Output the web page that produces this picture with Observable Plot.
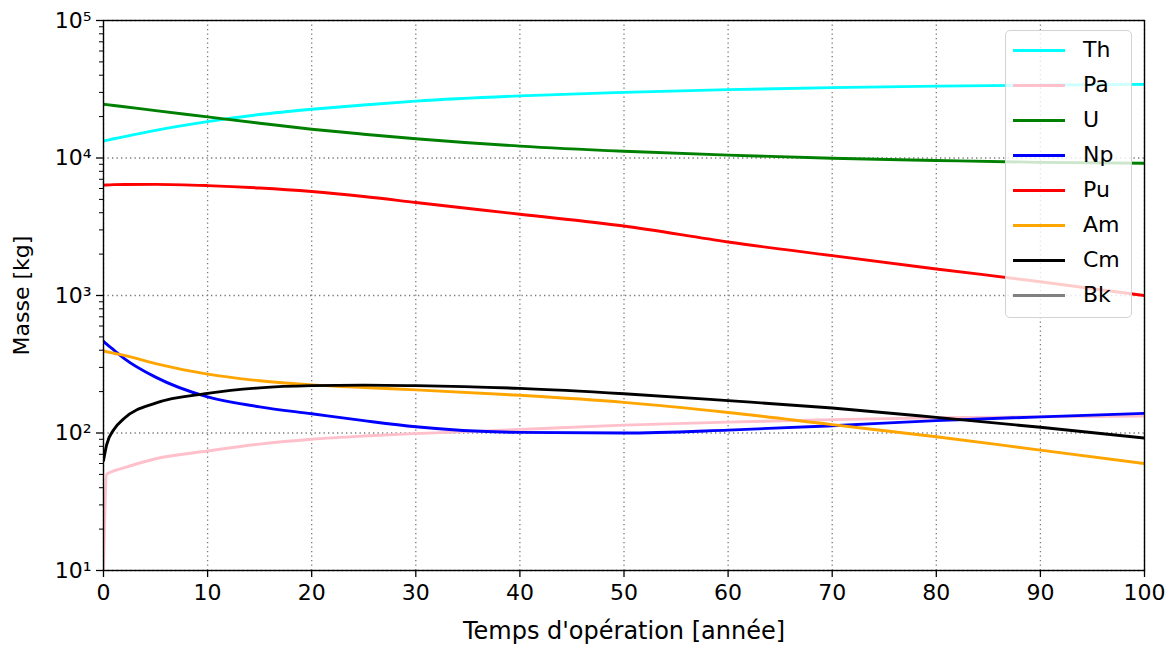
<!DOCTYPE html>
<html><head><meta charset="utf-8">
<script src="https://cdn.jsdelivr.net/npm/d3@7"></script>
<script src="https://cdn.jsdelivr.net/npm/@observablehq/plot@0.6"></script>
<style>
body{margin:0;background:#fff;font-family:"DejaVu Sans",sans-serif;}
#wrap{position:relative;width:1173px;height:646px;overflow:hidden;}
#legend{position:absolute;left:1005px;top:30px;width:127px;height:288px;box-sizing:border-box;border:1.5px solid #d3d3d3;border-radius:5px;background:rgba(255,255,255,0.8);}
.item{position:absolute;left:0;width:120px;height:35px;}
.item .sw{position:absolute;left:7px;top:16px;width:52px;height:3px;}
.item span{position:absolute;left:77px;top:3px;font-size:22px;line-height:27px;color:#000;}
</style></head><body><div id="wrap"><div id="legend"></div></div>
<script>
// time [années]
const time = [0, 0.3, 1, 2, 5, 10, 15, 20, 25, 30, 40, 50, 60, 70, 80, 90, 100];
// masses [kg]
const Th = [13300, 13450, 13800, 14300, 15900, 18400, 20700, 22600, 24300, 25900, 28300, 30000, 31400, 32500, 33300, 33900, 34300];
const Pa = [10, 50, 53, 56, 65, 74, 83, 90, 95, 99, 106, 114, 120, 125, 129, 131, 133];
const U  = [24600, 24450, 24100, 23600, 22100, 19900, 17900, 16200, 14900, 13800, 12200, 11200, 10500, 9950, 9600, 9300, 9150];
const Np = [465, 443, 401, 348, 255, 183, 155, 138, 123, 111, 101, 100, 105, 113, 123, 131, 139];
const Pu = [6350, 6370, 6400, 6420, 6430, 6300, 6050, 5700, 5250, 4750, 3900, 3200, 2450, 1950, 1560, 1260, 1000];
const Am = [395, 390, 380, 367, 320, 268, 240, 224, 214, 206, 188, 167, 141, 115, 94, 75, 60];
const Cm = [63, 82, 106, 128, 165, 194, 213, 221, 223, 221, 211, 193, 172, 152, 130, 110, 92];
const Bk = [];

const elements = ["Th", "Pa", "U", "Np", "Pu", "Am", "Cm", "Bk"];
const colors = ["#00ffff", "#ffc0cb", "#008000", "#0000ff", "#ff0000", "#ffa500", "#000000", "#808080"];
const xTicks = [0, 10, 20, 30, 40, 50, 60, 70, 80, 90, 100];
const yMajor = [10, 100, 1000, 10000, 100000];
const yMinor = [20, 30, 40, 50, 60, 70, 80, 90, 200, 300, 400, 500, 600, 700, 800, 900,
  2000, 3000, 4000, 5000, 6000, 7000, 8000, 9000, 20000, 30000, 40000, 50000, 60000, 70000, 80000, 90000];

const series = {Th, Pa, U, Np, Pu, Am, Cm, Bk};
const data = elements.flatMap(el => series[el].map((v, i) => ({el, t: time[i], v})));

const sup = "⁰¹²³⁴⁵⁶⁷⁸⁹";
const fmt = d => "10" + String(Math.round(Math.log10(d))).split("").map(c => sup[+c]).join("");

const grid = {stroke: "#777", strokeOpacity: 1, strokeWidth: 1.3, strokeDasharray: "1.3,3.2"};

const chart = Plot.plot({
  width: 1173, height: 646,
  marginLeft: 103, marginRight: 29, marginTop: 20, marginBottom: 76,
  x: {domain: [0, 100]},
  y: {type: "log", domain: [10, 100000]},
  color: {domain: elements, range: colors},
  style: {fontFamily: "DejaVu Sans", fontSize: "22px", color: "black", background: "white"},
  marks: [
    Plot.gridX(xTicks, grid),
    Plot.gridY(yMajor, grid),
    Plot.line(data, {x: "t", y: "v", z: "el", stroke: "el", strokeWidth: 2.9, curve: "monotone-x", clip: true}),
    Plot.axisX(xTicks, {tickSize: 7, tickPadding: 7, fontSize: 22, tickFormat: d => String(d),
      label: null, strokeWidth: 1.3}),
    Plot.axisX({ticks: [], tickSize: 0, fontSize: 24,
      label: "Temps d'opération [année]", labelAnchor: "center", labelOffset: 68, labelArrow: "none"}),
    Plot.axisY(yMajor, {tickSize: 7, tickPadding: 5, fontSize: 22, tickFormat: fmt,
      label: null, strokeWidth: 1.3}),
    Plot.axisY({ticks: [], tickSize: 0, fontSize: 22,
      label: "Masse [kg]", labelAnchor: "center", labelOffset: 90, labelArrow: "none"}),
    Plot.axisY(yMinor, {tickSize: 4, tickFormat: () => "", label: null, strokeWidth: 1}),
    Plot.frame({stroke: "black", strokeWidth: 1.4})
  ]
});
const wrap = document.getElementById("wrap");
wrap.insertBefore(chart, wrap.firstChild);

const legend = document.getElementById("legend");
elements.forEach((el, i) => {
  const item = document.createElement("div");
  item.className = "item";
  item.style.top = (2 + i * 35.05) + "px";
  const sw = document.createElement("div");
  sw.className = "sw";
  sw.style.background = colors[i];
  const lab = document.createElement("span");
  lab.textContent = el;
  item.appendChild(sw);
  item.appendChild(lab);
  legend.appendChild(item);
});
</script></body></html>
